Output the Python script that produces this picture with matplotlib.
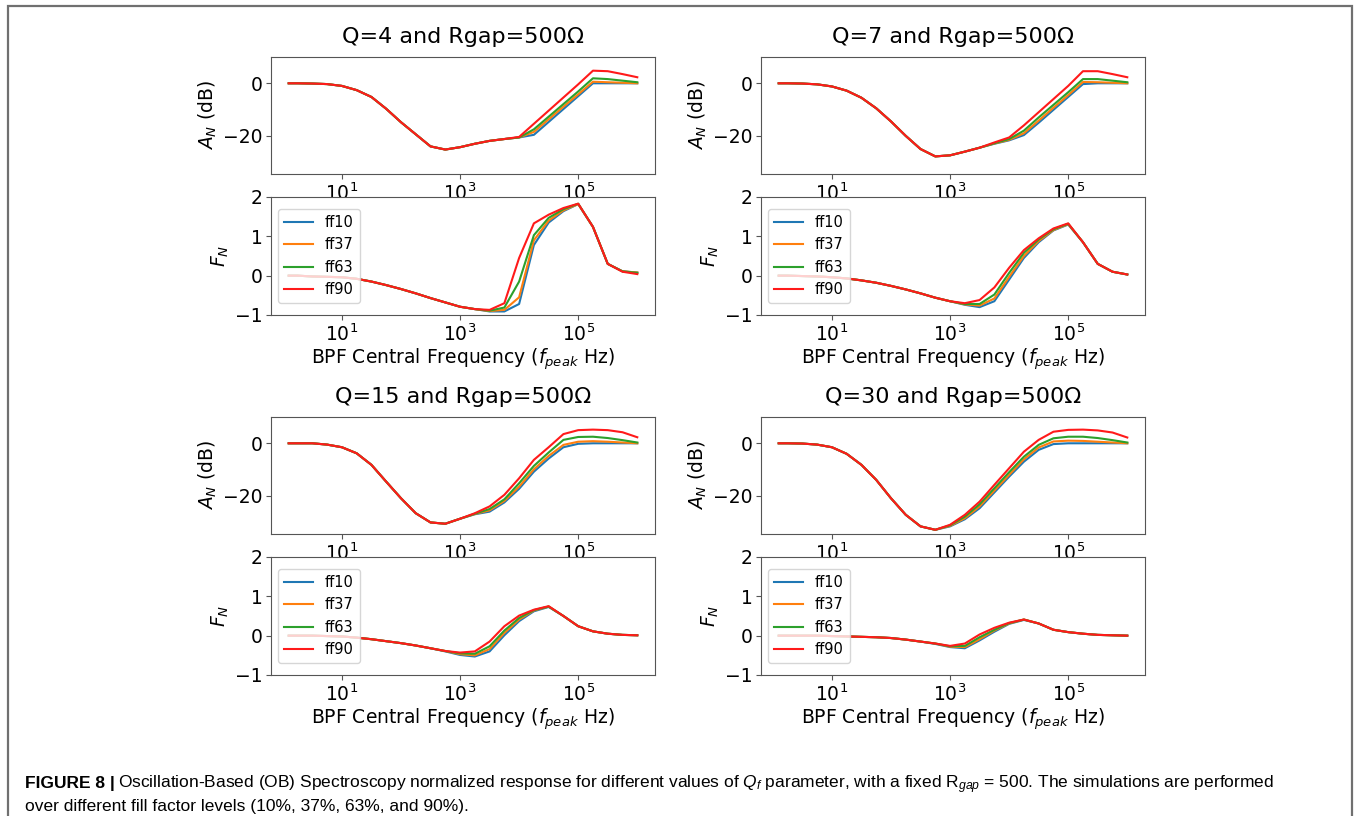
import numpy as np
import matplotlib
matplotlib.use("Agg")
import matplotlib.pyplot as plt
from matplotlib.patches import Rectangle
from matplotlib.ticker import NullLocator

plt.rcParams['mathtext.rm'] = 'Liberation Sans'
plt.rcParams['mathtext.it'] = 'Liberation Sans:italic'
plt.rcParams['mathtext.bf'] = 'Liberation Sans:bold'

# BPF central frequency grid (log10 of Hz)
log_f = [0.1, 0.25, 0.5, 0.75, 1.0, 1.25, 1.5, 1.75, 2.0, 2.25, 2.5, 2.75, 3.0,
         3.25, 3.5, 3.75, 4.0, 4.25, 4.5, 4.75, 5.0, 5.25, 5.5, 5.75, 6.0]
f_peak = 10 ** np.array(log_f)

series_labels = ["ff10", "ff37", "ff63", "ff90"]
series_colors = ["#1f77b4", "#ff7f0e", "#2ca02c", "#ff1a1a"]
q_values = [4, 7, 15, 30]

# ---- Q = 4 ----
an_q4_low = [0, 0, -0.1, -0.3, -1.0, -2.6, -5.2, -9.7, -14.8, -19.4, -24.0, -25.2,
             -24.3, -23.0, -21.9, -21.2]
an_q4_ff10 = an_q4_low + [-20.6, -19.6, -14.7, -9.8, -4.9, 0.0, 0.0, 0.0, 0.0]
an_q4_ff37 = an_q4_low + [-20.6, -18.5, -13.7, -8.9, -4.2, 0.6, 0.4, 0.2, 0.0]
an_q4_ff63 = an_q4_low + [-20.6, -17.5, -12.7, -7.9, -3.1, 1.9, 1.6, 1.0, 0.4]
an_q4_ff90 = an_q4_low + [-20.4, -15.4, -10.4, -5.4, -0.4, 4.8, 4.6, 3.5, 2.3]

fn_q4_low = [0, 0, -0.02, -0.03, -0.04, -0.08, -0.15, -0.24, -0.34, -0.45, -0.57,
             -0.68, -0.79, -0.85]
fn_q4_ff10 = fn_q4_low + [-0.91, -0.91, -0.72, 0.78, 1.35, 1.64, 1.82, 1.24, 0.30, 0.11, 0.08]
fn_q4_ff37 = fn_q4_low + [-0.90, -0.87, -0.55, 0.90, 1.40, 1.66, 1.82, 1.24, 0.30, 0.11, 0.08]
fn_q4_ff63 = fn_q4_low + [-0.89, -0.81, -0.15, 1.03, 1.47, 1.69, 1.83, 1.24, 0.30, 0.11, 0.07]
fn_q4_ff90 = fn_q4_low + [-0.87, -0.70, 0.45, 1.33, 1.55, 1.72, 1.83, 1.24, 0.30, 0.10, 0.04]

# ---- Q = 7 ----
an_q7_low = [0, 0, -0.1, -0.4, -1.2, -2.8, -5.5, -9.5, -14.5, -20.0, -25.0, -27.8,
             -27.4, -26.0, -24.5]
an_q7_ff10 = an_q7_low + [-23.0, -21.7, -19.7, -15.0, -10.1, -5.2, -0.3, 0.0, 0.0, 0.0]
an_q7_ff37 = an_q7_low + [-22.9, -21.5, -19.0, -14.2, -9.3, -4.5, 0.5, 0.4, 0.2, 0.0]
an_q7_ff63 = an_q7_low + [-22.8, -21.2, -18.0, -13.0, -8.2, -3.4, 1.6, 1.6, 1.0, 0.4]
an_q7_ff90 = an_q7_low + [-22.5, -20.6, -16.0, -11.0, -6.0, -1.0, 4.6, 4.6, 3.5, 2.3]

fn_q7_low = [0, 0, -0.01, -0.02, -0.04, -0.07, -0.12, -0.18, -0.26, -0.35, -0.45,
             -0.56, -0.65]
fn_q7_ff10 = fn_q7_low + [-0.74, -0.80, -0.65, -0.10, 0.45, 0.85, 1.15, 1.30, 0.85, 0.30, 0.10, 0.03]
fn_q7_ff37 = fn_q7_low + [-0.73, -0.76, -0.58, -0.03, 0.50, 0.88, 1.16, 1.31, 0.85, 0.30, 0.10, 0.03]
fn_q7_ff63 = fn_q7_low + [-0.72, -0.72, -0.48, 0.07, 0.58, 0.92, 1.18, 1.32, 0.85, 0.30, 0.10, 0.03]
fn_q7_ff90 = fn_q7_low + [-0.70, -0.62, -0.30, 0.20, 0.65, 0.95, 1.20, 1.33, 0.85, 0.30, 0.10, 0.03]

# ---- Q = 15 ----
an_q15_low = [0, 0, 0, -0.5, -1.5, -3.8, -8.2, -14.6, -20.9, -26.6, -30.1, -30.6, -28.7]
an_q15_ff10 = an_q15_low + [-27.0, -26.0, -22.5, -17.3, -10.8, -5.8, -1.5, -0.2, 0.0, 0.0, 0.0, 0.0]
an_q15_ff37 = an_q15_low + [-26.9, -25.5, -21.9, -16.5, -9.9, -4.8, -0.6, 0.6, 0.8, 0.6, 0.3, 0.0]
an_q15_ff63 = an_q15_low + [-26.8, -25.0, -21.3, -15.2, -8.6, -3.5, 1.3, 2.4, 2.5, 2.0, 1.2, 0.3]
an_q15_ff90 = an_q15_low + [-26.6, -24.0, -19.6, -13.3, -6.3, -1.5, 3.5, 5.0, 5.2, 5.0, 4.2, 2.3]

fn_q15_low = [0, 0, 0, -0.01, -0.02, -0.05, -0.09, -0.14, -0.19, -0.25, -0.32]
fn_q15_ff10 = fn_q15_low + [-0.40, -0.49, -0.53, -0.40, 0.01, 0.37, 0.62, 0.73, 0.50, 0.24, 0.11, 0.05, 0.02, 0.01]
fn_q15_ff37 = fn_q15_low + [-0.39, -0.47, -0.50, -0.34, 0.07, 0.41, 0.64, 0.74, 0.50, 0.24, 0.11, 0.05, 0.02, 0.01]
fn_q15_ff63 = fn_q15_low + [-0.39, -0.45, -0.46, -0.27, 0.13, 0.45, 0.65, 0.74, 0.50, 0.24, 0.11, 0.05, 0.02, 0.01]
fn_q15_ff90 = fn_q15_low + [-0.39, -0.43, -0.40, -0.15, 0.24, 0.51, 0.66, 0.75, 0.50, 0.24, 0.11, 0.05, 0.02, 0.01]

# ---- Q = 30 ----
an_q30_low = [0, 0, -0.1, -0.5, -1.5, -4.0, -8.2, -13.9, -20.9, -27.2, -31.6, -32.9]
an_q30_ff10 = an_q30_low + [-31.6, -28.9, -24.7, -18.7, -12.7, -7.0, -2.5, -0.3, 0.0, 0.0, 0.0, 0.0, 0.0]
an_q30_ff37 = an_q30_low + [-31.4, -28.5, -24.0, -18.0, -12.0, -6.1, -1.6, 0.7, 1.0, 0.9, 0.6, 0.3, 0.0]
an_q30_ff63 = an_q30_low + [-31.2, -27.9, -23.2, -17.1, -11.0, -5.1, -0.6, 1.9, 2.5, 2.5, 2.0, 1.2, 0.3]
an_q30_ff90 = an_q30_low + [-31.0, -27.2, -22.2, -15.8, -9.5, -3.2, 1.3, 4.4, 5.1, 5.2, 4.9, 4.1, 2.2]

fn_q30_low = [0, 0, 0, 0, -0.01, -0.02, -0.03, -0.04, -0.06, -0.10, -0.15]
fn_q30_ff10 = fn_q30_low + [-0.21, -0.29, -0.32, -0.12, 0.10, 0.30, 0.40, 0.31, 0.15, 0.09, 0.05, 0.02, 0.01, 0.0]
fn_q30_ff37 = fn_q30_low + [-0.20, -0.28, -0.29, -0.09, 0.13, 0.31, 0.41, 0.31, 0.15, 0.09, 0.05, 0.02, 0.01, 0.0]
fn_q30_ff63 = fn_q30_low + [-0.20, -0.27, -0.26, -0.04, 0.15, 0.32, 0.41, 0.31, 0.15, 0.09, 0.05, 0.02, 0.01, 0.0]
fn_q30_ff90 = fn_q30_low + [-0.20, -0.26, -0.20, 0.03, 0.20, 0.33, 0.41, 0.31, 0.15, 0.09, 0.05, 0.02, 0.01, 0.0]

an_data = {
    4: [an_q4_ff10, an_q4_ff37, an_q4_ff63, an_q4_ff90],
    7: [an_q7_ff10, an_q7_ff37, an_q7_ff63, an_q7_ff90],
    15: [an_q15_ff10, an_q15_ff37, an_q15_ff63, an_q15_ff90],
    30: [an_q30_ff10, an_q30_ff37, an_q30_ff63, an_q30_ff90],
}
fn_data = {
    4: [fn_q4_ff10, fn_q4_ff37, fn_q4_ff63, fn_q4_ff90],
    7: [fn_q7_ff10, fn_q7_ff37, fn_q7_ff63, fn_q7_ff90],
    15: [fn_q15_ff10, fn_q15_ff37, fn_q15_ff63, fn_q15_ff90],
    30: [fn_q30_ff10, fn_q30_ff37, fn_q30_ff63, fn_q30_ff90],
}

W, H = 1354, 816
fig = plt.figure(figsize=(W / 100, H / 100), dpi=100)

# outer frame of the figure page
fig.add_artist(Rectangle((8 / W, -0.05), (1352 - 8) / W, 1 - 6 / H + 0.05,
                         transform=fig.transFigure, fill=False,
                         edgecolor='#707070', linewidth=1.6))

# pixel boxes (left, top) of the A_N axes for each panel
panel_pos = {4: (271, 57), 7: (761, 57), 15: (271, 417), 30: (761, 417)}
ax_w, ax_h = 384, 117
gap_fn = 23

spine_col = '#555555'
tick_fs = 13.5


def style_axis(ax):
    ax.set_xscale('log')
    ax.set_xlim(10 ** -0.2, 10 ** 6.3)
    ax.set_xticks([1e1, 1e3, 1e5])
    ax.xaxis.set_minor_locator(NullLocator())
    ax.tick_params(labelsize=tick_fs, color=spine_col, pad=2.5)
    for sp in ax.spines.values():
        sp.set_edgecolor(spine_col)


for q in q_values:
    px, py = panel_pos[q]
    ax1 = fig.add_axes([px / W, 1 - (py + ax_h) / H, ax_w / W, ax_h / H])
    py2 = py + ax_h + gap_fn
    ax2 = fig.add_axes([px / W, 1 - (py2 + ax_h + 1) / H, ax_w / W, (ax_h + 1) / H])

    for vals, lab, col in zip(an_data[q], series_labels, series_colors):
        ax1.plot(f_peak, vals, color=col, lw=1.5, label=lab)
    for vals, lab, col in zip(fn_data[q], series_labels, series_colors):
        ax2.plot(f_peak, vals, color=col, lw=1.5, label=lab)

    style_axis(ax1)
    style_axis(ax2)
    ax1.set_ylim(-34.5, 10)
    ax1.set_yticks([-20, 0])
    ax2.set_ylim(-1, 2)
    ax2.set_yticks([-1, 0, 1, 2])

    ax1.set_title(f"Q={q} and Rgap=500Ω", fontsize=16, pad=10)
    ax1.set_ylabel("$A_N$ (dB)", fontsize=tick_fs, labelpad=3)
    ax2.set_ylabel("$F_N$", fontsize=tick_fs, labelpad=3)
    ax2.set_xlabel("BPF Central Frequency ($f_{peak}$ Hz)", fontsize=tick_fs, labelpad=1)
    ax2.legend(loc='center left', fontsize=10.5, handlelength=2.0)

# caption
renderer = fig.canvas.get_renderer()
cap_font = 'Liberation Sans'
cap_fs = 12.55
y1 = 1 - 788 / H
y2 = 1 - 811 / H
t_bold = fig.text(25 / W, y1, "FIGURE 8 |", fontsize=cap_fs, family=cap_font,
                  fontweight='bold', va='baseline')
bb = t_bold.get_window_extent(renderer)
fig.text(bb.x1 / W + 3 / W, y1,
         "Oscillation-Based (OB) Spectroscopy normalized response for different values of "
         "$Q_f$ parameter, with a fixed R$_{gap}$ = 500. The simulations are performed",
         fontsize=cap_fs, family=cap_font, va='baseline', math_fontfamily='custom')
fig.text(25 / W, y2, "over different fill factor levels (10%, 37%, 63%, and 90%).",
         fontsize=cap_fs, family=cap_font, va='baseline')

fig.savefig("out.png", dpi=100)
